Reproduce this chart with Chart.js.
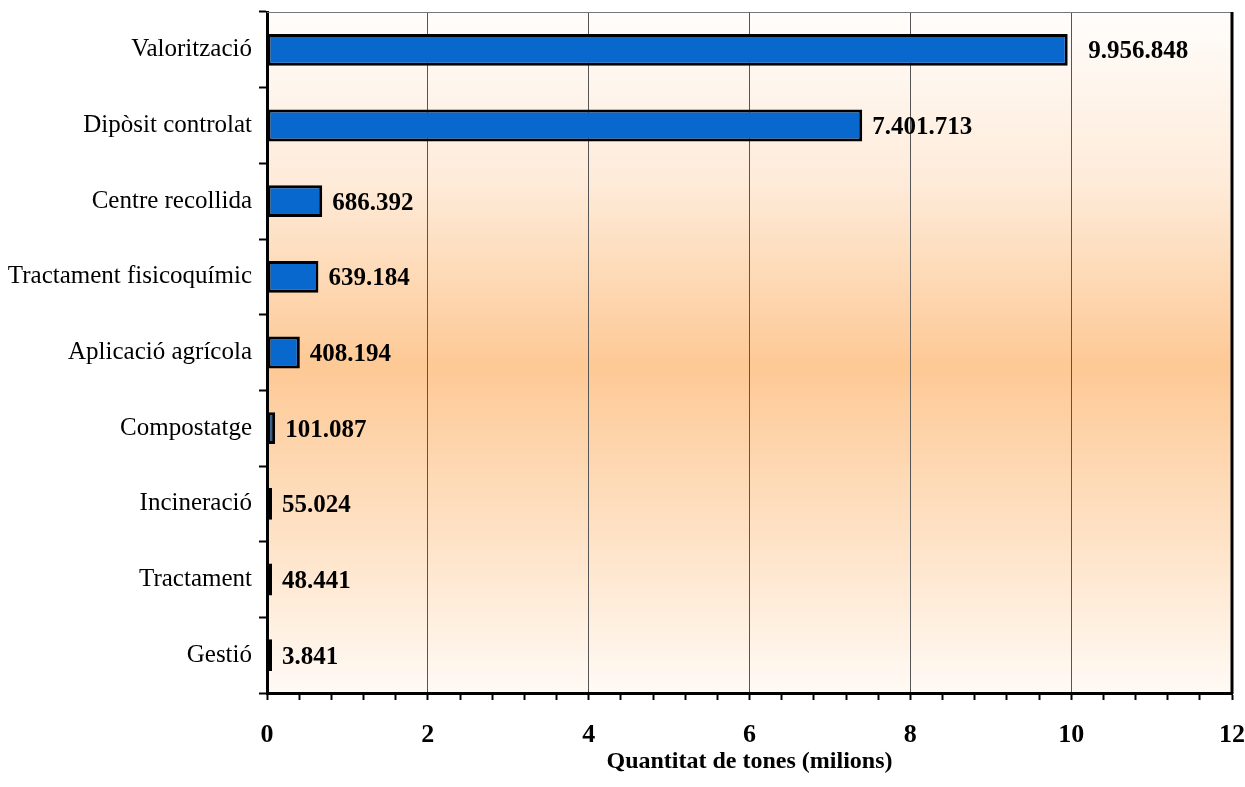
<!DOCTYPE html>
<html>
<head>
<meta charset="utf-8">
<script src="https://cdn.jsdelivr.net/npm/chart.js@4/dist/chart.umd.min.js"></script>
<style>
  html, body { margin: 0; padding: 0; background: #fff; }
  .wrap { width: 1245px; height: 787px; position: relative; }
</style>
</head>
<body>
<div class="wrap"><canvas id="chart"></canvas></div>
<script>
const categories = [
  "Valorització",
  "Dipòsit controlat",
  "Centre recollida",
  "Tractament fisicoquímic",
  "Aplicació agrícola",
  "Compostatge",
  "Incineració",
  "Tractament",
  "Gestió",
];
const tones = [9956848, 7401713, 686392, 639184, 408194, 101087, 55024, 48441, 3841];
const tonesMilions = tones.map((t) => t / 1e6);
const xMin = 0;
const xMax = 12;
const xMajorStep = 2;
const xMinorStep = 0.4;

Chart.defaults.font.family = '"Liberation Serif", "Times New Roman", serif';
Chart.defaults.color = "#000";

const isMajor = (v) => Math.abs(Math.round(v / xMajorStep) * xMajorStep - v) < 1e-6;
const fmt = (n) => n.toString().replace(/\B(?=(\d{3})+(?!\d))/g, ".");
const noOverhang = (s) => {
  s.paddingLeft = 0;
  s.paddingRight = 0;
  s.paddingTop = 0;
  s.paddingBottom = 0;
};

// orange band behind the plot + top/right frame
const plotFrame = {
  id: "plotFrame",
  beforeDraw(chart) {
    const { ctx, chartArea: a } = chart;
    const g = ctx.createLinearGradient(0, a.top, 0, a.bottom);
    g.addColorStop(0, "#FFFDFB");
    g.addColorStop(0.25, "#FEEBD9");
    g.addColorStop(0.52, "#FDC995");
    g.addColorStop(0.78, "#FEE3C8");
    g.addColorStop(1, "#FFFAF5");
    ctx.save();
    ctx.fillStyle = g;
    ctx.fillRect(a.left, a.top, a.right - a.left, a.bottom - a.top);
    ctx.restore();
  },
  afterDraw(chart) {
    const { ctx, chartArea: a } = chart;
    ctx.save();
    ctx.strokeStyle = "#777";
    ctx.lineWidth = 1;
    ctx.beginPath();
    ctx.moveTo(a.left, a.top + 0.5);
    ctx.lineTo(a.right, a.top + 0.5);
    ctx.stroke();
    ctx.strokeStyle = "#000";
    ctx.lineWidth = 3;
    ctx.beginPath();
    ctx.moveTo(a.right, a.top);
    ctx.lineTo(a.right, a.bottom + 1);
    ctx.stroke();
    ctx.restore();
  },
};

// value labels at the end of each bar
const barLabels = {
  id: "barLabels",
  afterDatasetsDraw(chart) {
    const { ctx } = chart;
    const xs = chart.scales.x;
    const meta = chart.getDatasetMeta(0);
    ctx.save();
    ctx.font = 'bold 25px "Liberation Serif", "Times New Roman", serif';
    ctx.fillStyle = "#000";
    ctx.textAlign = "left";
    ctx.textBaseline = "middle";
    meta.data.forEach((bar, i) => {
      let x = bar.x + 10;
      // keep clear of a gridline sitting right at the bar end
      for (let v = xMajorStep; v < xMax; v += xMajorStep) {
        const gx = xs.getPixelForValue(v);
        if (gx > bar.x && gx < bar.x + 6) x = gx + 17;
      }
      ctx.fillText(fmt(tones[i]), x, bar.y + 2);
    });
    ctx.restore();
  },
};

new Chart(document.getElementById("chart"), {
  type: "bar",
  data: {
    labels: categories,
    datasets: [
      {
        label: "Quantitat de tones",
        data: tonesMilions,
        backgroundColor: "#0968CD",
        borderColor: "#000",
        borderWidth: 3,
        borderSkipped: false,
        minBarLength: 5,
        barPercentage: 0.42,
        categoryPercentage: 1,
      },
    ],
  },
  options: {
    indexAxis: "y",
    responsive: true,
    maintainAspectRatio: false,
    animation: false,
    layout: { padding: { top: 12, right: 13, left: 0, bottom: 0 } },
    plugins: {
      legend: { display: false },
      tooltip: { enabled: false },
    },
    scales: {
      x: {
        min: xMin,
        max: xMax,
        afterFit: (s) => { s.height = 787 - 693; noOverhang(s); },
        border: { display: true, color: "#000", width: 3 },
        grid: {
          color: (c) => (c.tick && isMajor(c.tick.value) ? "#555" : "rgba(0,0,0,0)"),
          lineWidth: 1,
          tickColor: "#000",
          tickWidth: 2,
          tickLength: 7,
        },
        ticks: {
          stepSize: xMinorStep,
          autoSkip: false,
          maxRotation: 0,
          padding: 20,
          font: { size: 26, weight: "bold" },
          callback: (v) => (isMajor(v) ? Math.round(v).toString() : ""),
        },
        title: {
          display: true,
          text: "Quantitat de tones (milions)",
          font: { size: 24, weight: "bold" },
          padding: { top: 0, bottom: 11 },
        },
      },
      y: {
        afterFit: (s) => { s.width = 267; noOverhang(s); },
        border: { display: true, color: "#000", width: 3 },
        grid: {
          drawOnChartArea: false,
          offset: true,
          tickColor: "#000",
          tickWidth: 2,
          tickLength: 8,
        },
        ticks: {
          padding: 7,
          font: { size: 25 },
        },
      },
    },
  },
  plugins: [plotFrame, barLabels],
});
</script>
</body>
</html>
